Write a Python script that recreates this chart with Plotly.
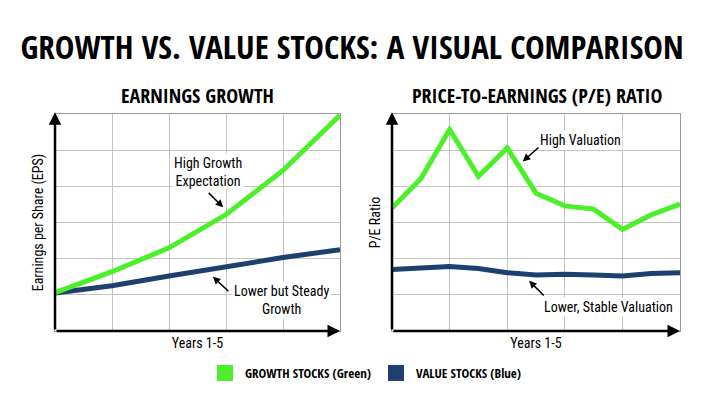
import plotly.graph_objects as go

# ---------------- data ----------------
eps_years = [0, 1, 2, 3, 4, 5]
eps_growth = [1.06, 1.64, 2.30, 3.22, 4.44, 5.97]
eps_value = [1.05, 1.25, 1.52, 1.78, 2.03, 2.25]

pe_years = [0, 0.5, 1, 1.5, 2, 2.5, 3, 3.5, 4, 4.5, 5]
pe_growth = [3.40, 4.21, 5.57, 4.28, 5.06, 3.81, 3.46, 3.37, 2.81, 3.21, 3.51]
pe_value = [1.70, 1.75, 1.78, 1.73, 1.61, 1.55, 1.57, 1.55, 1.52, 1.59, 1.61]

series_names = ["GROWTH STOCKS (Green)", "VALUE STOCKS (Blue)"]

GREEN = "#4CF02A"
BLUE = "#1F3F6F"
GRID = "#C4C4C4"
BODY_FONT = "Roboto Condensed, Roboto, sans-serif"
HEAD_FONT = "Open Sans Condensed, Roboto Condensed, sans-serif"

W, H = 717, 400

fig = go.Figure()

# left chart
fig.add_trace(go.Scatter(x=eps_years, y=eps_value, mode="lines", line=dict(color=BLUE, width=5),
                         xaxis="x", yaxis="y", showlegend=False))
fig.add_trace(go.Scatter(x=eps_years, y=eps_growth, mode="lines", line=dict(color=GREEN, width=5),
                         xaxis="x", yaxis="y", showlegend=False))
# right chart
fig.add_trace(go.Scatter(x=pe_years, y=pe_value, mode="lines", line=dict(color=BLUE, width=5),
                         xaxis="x2", yaxis="y2", showlegend=False))
fig.add_trace(go.Scatter(x=pe_years, y=pe_growth, mode="lines", line=dict(color=GREEN, width=5),
                         xaxis="x2", yaxis="y2", showlegend=False))
# legend entries
for name, col in zip(series_names, [GREEN, BLUE]):
    fig.add_trace(go.Scatter(x=[None], y=[None], mode="markers", name=name,
                             marker=dict(symbol="square", size=17, color=col), showlegend=True))

axis_common = dict(showticklabels=False, ticks="", showgrid=True, gridcolor=GRID, gridwidth=1,
                   showline=True, linecolor="#9A9A9A", linewidth=1, mirror=True, zeroline=False,
                   fixedrange=True)
title_font = dict(family=BODY_FONT, size=14, color="black")

ydom = [1 - 331 / H, 1 - 114 / H]
fig.update_layout(
    width=W, height=H,
    margin=dict(l=0, r=0, t=0, b=0),
    paper_bgcolor="white", plot_bgcolor="white",
    title=dict(text="<b>GROWTH VS. VALUE STOCKS: A VISUAL COMPARISON</b>",
               x=352 / W, xanchor="center", y=1 - 47 / H, yanchor="middle",
               font=dict(family=HEAD_FONT, size=33, color="black")),
    xaxis=dict(domain=[55 / W, 340 / W], range=[0, 5], dtick=1, anchor="y",
               title=dict(text="Years 1-5", standoff=7, font=title_font), **axis_common),
    yaxis=dict(domain=ydom, range=[0, 6], dtick=1, anchor="x",
               title=dict(text="Earnings per Share (EPS)", standoff=7, font=title_font), **axis_common),
    xaxis2=dict(domain=[392 / W, 680 / W], range=[0, 5], dtick=1, anchor="y2",
                title=dict(text="Years 1-5", standoff=7, font=title_font), **axis_common),
    yaxis2=dict(domain=ydom, range=[0, 6], dtick=1, anchor="x2",
                title=dict(text="P/E Ratio", standoff=7, font=title_font), **axis_common),
    legend=dict(orientation="h", x=366 / W, xanchor="center", y=1 - 373 / H, yanchor="middle",
                font=dict(family=HEAD_FONT, size=13, color="black"), itemsizing="trace"),
)

ann = []
# subplot titles
ann.append(dict(text="<b>EARNINGS GROWTH</b>", x=197 / W, y=1 - 95 / H, xref="paper", yref="paper",
                xanchor="center", yanchor="middle",
                showarrow=False, font=dict(family=HEAD_FONT, size=20, color="black")))
ann.append(dict(text="<b>PRICE-TO-EARNINGS (P/E) RATIO</b>", x=537 / W, y=1 - 95 / H, xref="paper", yref="paper",
                xanchor="center", yanchor="middle",
                showarrow=False, font=dict(family=HEAD_FONT, size=20, color="black")))

# axis arrows (black)
for xr, yr in [("x", "y"), ("x2", "y2")]:
    ann.append(dict(x=0, y=6.05, ax=0, ay=0, xref=xr, yref=yr, axref=xr, ayref=yr, text="",
                    showarrow=True, arrowhead=2, arrowsize=1, arrowwidth=2.5, arrowcolor="black"))
    ann.append(dict(x=5.0, y=0, ax=0, ay=0, xref=xr, yref=yr, axref=xr, ayref=yr, text="",
                    showarrow=True, arrowhead=2, arrowsize=1, arrowwidth=2.5, arrowcolor="black"))

# callout labels
def label(text, x, y, xr, yr):
    ann.append(dict(text=text, x=x, y=y, xref=xr, yref=yr, showarrow=False, bgcolor="white",
                    font=dict(family=BODY_FONT, size=14, color="black"), align="center"))

def pointer(x0, y0, x1, y1, xr, yr):
    ann.append(dict(x=x1, y=y1, ax=x0, ay=y0, xref=xr, yref=yr, axref=xr, ayref=yr, text="",
                    showarrow=True, arrowhead=2, arrowsize=1, arrowwidth=1.5, arrowcolor="black"))

label("High Growth<br>Expectation", 2.68, 4.39, "x", "y")
pointer(2.67, 3.86, 2.95, 3.42, "x", "y")
label("Lower but Steady<br>Growth", 3.98, 0.86, "x", "y")
pointer(3.07, 1.06, 2.77, 1.50, "x", "y")

label("High Valuation", 3.28, 5.28, "x2", "y2")
pointer(2.57, 5.11, 2.27, 4.69, "x2", "y2")
label("Lower, Stable Valuation", 3.75, 0.67, "x2", "y2")
pointer(2.66, 0.94, 2.38, 1.39, "x2", "y2")

fig.update_layout(annotations=ann)
fig.write_html("out.html")
